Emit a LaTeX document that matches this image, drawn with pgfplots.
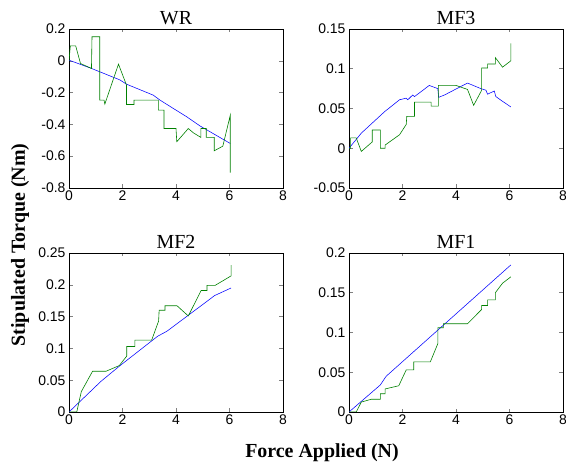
\documentclass[border=0pt]{standalone}
\usepackage{fontspec}
\setmainfont{Liberation Serif}
\newfontfamily\ticksf{Liberation Sans}
\usepackage{pgfplots}
\pgfplotsset{compat=1.18}
\definecolor{mblue}{RGB}{0,0,255}
\definecolor{mgreen}{RGB}{0,128,0}

\pgfplotsset{
  mat/.style={
    scale only axis, width=214bp, height=159bp,
    anchor=south west,
    xmin=0, xmax=8, xtick={0,2,4,6,8}, xticklabels={0,2,4,6,8},
    tick align=inside, major tick length=3.5bp,
    axis line style={line width=0.8pt}, tick style={line width=0.6pt},
    ticklabel style={font=\ticksf\fontsize{14}{14}\selectfont},
    xticklabel style={yshift=1bp},
    title style={font=\fontsize{20}{20}\selectfont, yshift=-5bp},
    every axis plot/.append style={line width=0.6pt},
  },
  sim/.style={mblue, line width=0.55pt},
  meas/.style={mgreen, line width=0.6pt},
}

\begin{document}
\begin{tikzpicture}
\useasboundingbox (0,0) rectangle (566bp,462bp);

% WR
\begin{axis}[mat, at={(69bp,274bp)}, title={WR},
  ymin=-0.8, ymax=0.2, ytick={-0.8,-0.6,-0.4,-0.2,0,0.2},
  yticklabels={-0.8,-0.6,-0.4,-0.2,0,0.2}]
\addplot[sim] coordinates {(0,0.004)(0.84,-0.048)(1.9,-0.12)(2.15,-0.147)(3.15,-0.216)(3.4,-0.247)(3.96,-0.306)(4.4,-0.352)(4.9,-0.41)(6.03,-0.52)};
\addplot[meas] coordinates {(0,0)(0.05,0.094)(0.25,0.094)(0.43,-0.017)(0.84,-0.048)(0.86,0.151)(1.15,0.151)(1.15,-0.247)(1.31,-0.247)(1.34,-0.272)(1.85,-0.021)(2.15,-0.153)(2.15,-0.275)(2.43,-0.275)(2.43,-0.247)(3.34,-0.247)(3.34,-0.31)(3.55,-0.31)(3.55,-0.426)(4.0,-0.426)(4.03,-0.509)(4.46,-0.426)(4.65,-0.453)(4.93,-0.482)(4.93,-0.426)(5.13,-0.426)(5.13,-0.482)(5.43,-0.482)(5.43,-0.566)(5.75,-0.537)(6.03,-0.342)(6.03,-0.704)};
\end{axis}

% MF3
\begin{axis}[mat, at={(349bp,274bp)}, title={MF3},
  ymin=-0.05, ymax=0.15, ytick={-0.05,0,0.05,0.1,0.15},
  yticklabels={-0.05,0,0.05,0.1,0.15}]
\addplot[sim] coordinates {(0,0)(0.46,0.019)(1.33,0.046)(1.89,0.061)(2.14,0.063)(2.2,0.061)(2.38,0.067)(2.45,0.065)(3.0,0.079)(3.32,0.075)(3.35,0.064)(3.57,0.067)(4.43,0.082)(4.93,0.075)(5.12,0.073)(5.18,0.068)(5.43,0.072)(5.49,0.065)(5.74,0.059)(6.05,0.052)};
\addplot[meas] coordinates {(0,0)(0.06,0)(0.06,0.013)(0.27,0.013)(0.46,-0.004)(0.87,0.008)(0.87,0.023)(1.17,0.023)(1.17,0)(1.35,0)(1.35,0.004)(1.89,0.017)(2.14,0.03)(2.16,0.04)(2.45,0.04)(2.45,0.058)(3.07,0.058)(3.07,0.053)(3.34,0.053)(3.34,0.079)(4.0,0.079)(4.43,0.074)(4.66,0.054)(4.96,0.073)(4.96,0.101)(5.18,0.101)(5.18,0.106)(5.47,0.106)(5.47,0.114)(5.74,0.102)(6.05,0.11)(6.05,0.132)};
\end{axis}

% MF2
\begin{axis}[mat, at={(69bp,50bp)}, title={MF2},
  ymin=0, ymax=0.25, ytick={0,0.05,0.1,0.15,0.2,0.25},
  yticklabels={0,0.05,0.1,0.15,0.2,0.25}]
\addplot[sim] coordinates {(0,0)(1.19,0.048)(1.88,0.072)(3.31,0.119)(3.66,0.127)(5.19,0.175)(5.44,0.183)(6.06,0.195)};
\addplot[meas] coordinates {(0,0)(0.29,0)(0.46,0.032)(0.88,0.064)(1.38,0.064)(1.88,0.073)(2.16,0.088)(2.16,0.103)(2.46,0.103)(2.46,0.113)(3.09,0.113)(3.35,0.143)(3.37,0.16)(3.59,0.16)(3.59,0.167)(4.04,0.167)(4.46,0.151)(4.94,0.191)(5.16,0.191)(5.16,0.199)(5.46,0.199)(6.06,0.214)(6.06,0.231)};
\end{axis}

% MF1
\begin{axis}[mat, at={(349bp,50bp)}, title={MF1},
  ymin=0, ymax=0.2, ytick={0,0.05,0.1,0.15,0.2},
  yticklabels={0,0.05,0.1,0.15,0.2}]
\addplot[sim] coordinates {(0,0)(1.17,0.034)(1.39,0.045)(6.05,0.185)};
\addplot[meas] coordinates {(0,0)(0.27,0)(0.46,0.0125)(0.83,0.016)(1.17,0.016)(1.17,0.023)(1.35,0.023)(1.35,0.029)(1.86,0.033)(2.14,0.053)(2.42,0.053)(2.42,0.063)(3.04,0.063)(3.32,0.086)(3.32,0.106)(3.53,0.106)(3.53,0.111)(4.43,0.111)(4.96,0.129)(4.96,0.134)(5.18,0.134)(5.18,0.141)(5.47,0.141)(5.47,0.15)(5.74,0.162)(6.05,0.17)};
\end{axis}

\node[font=\bfseries\fontsize{20}{20}\selectfont, rotate=90] at (20bp,217bp) {Stipulated Torque (Nm)};
\node[font=\bfseries\fontsize{20}{20}\selectfont] at (322bp,9bp) {Force Applied (N)};
\end{tikzpicture}
\end{document}
